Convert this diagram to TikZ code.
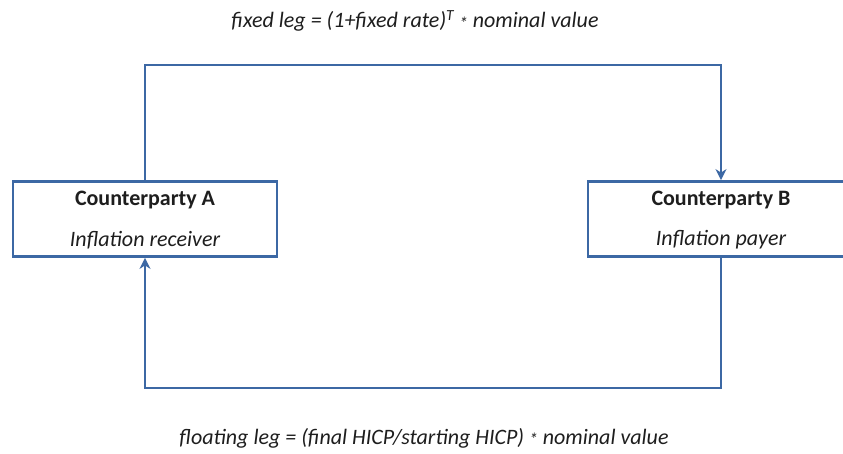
\documentclass[tikz,border=0pt]{standalone}
\usepackage{fontspec}
\setmainfont{Carlito}
\usetikzlibrary{arrows.meta}
\definecolor{lineblue}{RGB}{60,104,164}
\definecolor{txt}{RGB}{30,30,30}
\newcommand{\midast}{\raisebox{-0.15ex}{\scalebox{0.8}{*}}}
\tikzset{
  x=1pt, y=-1pt,
  party/.style={draw=lineblue, line width=2.8pt, minimum width=264pt, minimum height=75pt, inner sep=0pt, fill=white},
  lbl/.style={text=txt, inner sep=0pt},
  flow/.style={draw=lineblue, line width=2.8pt, -{Stealth[length=11pt,width=11pt,inset=3.5pt]}},
}
\begin{document}
\begin{tikzpicture}
\useasboundingbox (0,0) rectangle (843,453);
\clip (0,0) rectangle (843,453);
\fill[white] (0,0) rectangle (843,453);
\node[party] (A) at (145,219) {};
\node[party, minimum width=266pt] (B) at (721,219) {};
\node[lbl, font=\fontsize{22}{26}\selectfont\bfseries] (At) at (145,200) {Counterparty A};
\node[lbl, font=\fontsize{22}{26}\selectfont\itshape] (Ai) at (145,240) {Inflation receiver};
\node[lbl, font=\fontsize{22}{26}\selectfont\bfseries] (Bt) at (721,200) {Counterparty B};
\node[lbl, font=\fontsize{22}{26}\selectfont\itshape] (Bi) at (721,240) {Inflation payer};
\coordinate (topc) at (430,65);
\coordinate (botc) at (430,388);
\draw[flow] (A.north) |- (topc) -| (B.north);
\draw[flow] (B.south) |- (botc) -| (A.south);
\node[lbl, font=\fontsize{22}{26}\selectfont\itshape] (fixed) at (415,21) {fixed leg = (1+fixed rate)\textsuperscript{T} \midast{} nominal value};
\node[lbl, font=\fontsize{22}{26}\selectfont\itshape] (float) at (424,438) {floating leg = (final HICP/starting HICP) \midast{} nominal value};
\end{tikzpicture}
\end{document}
